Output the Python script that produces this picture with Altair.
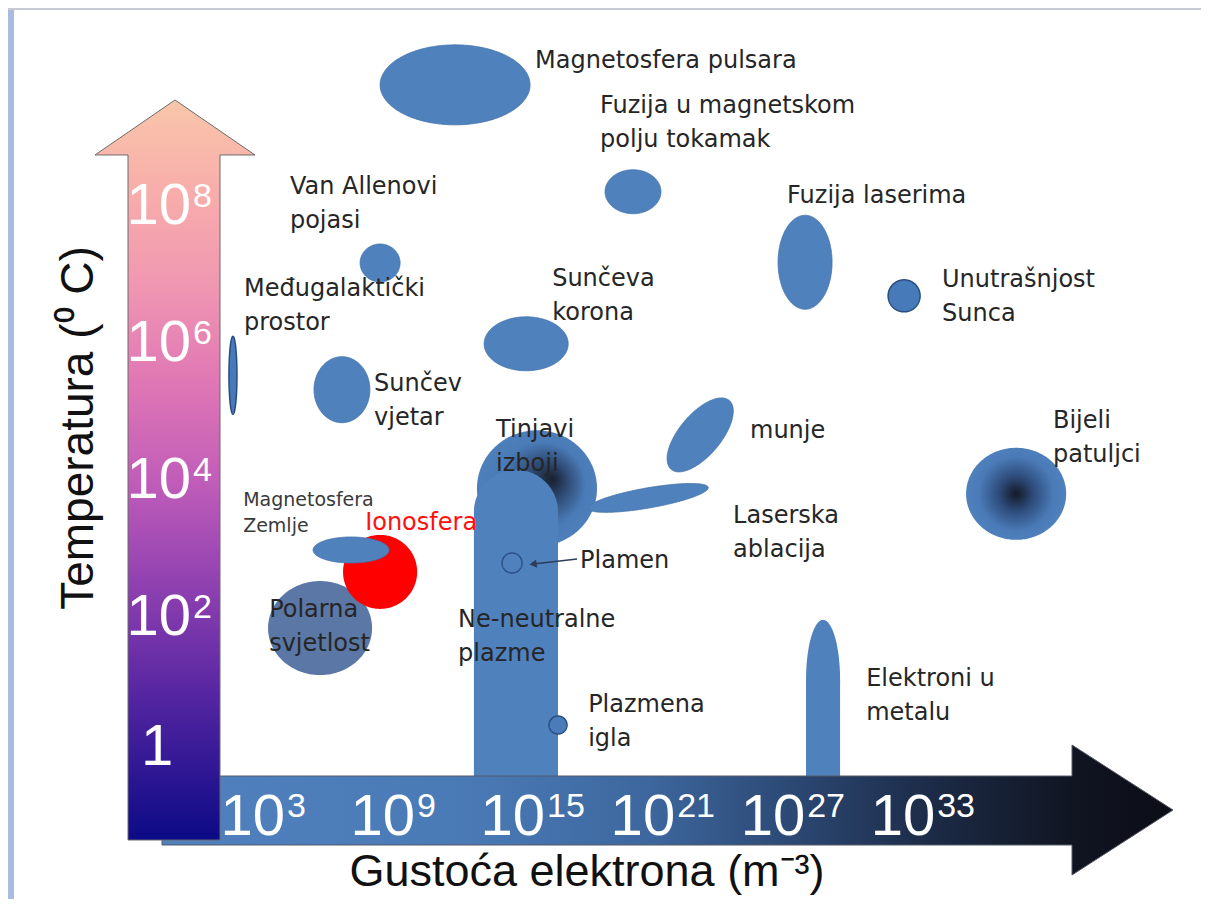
import numpy as np
import pandas as pd
import altair as alt

# ---------------- data (all values in log10 units) ----------------
region_names = [
    "Magnetosfera pulsara", "Fuzija u magnetskom polju tokamak", "Fuzija laserima",
    "Unutrašnjost Sunca", "Van Allenovi pojasi", "Međugalaktički prostor", "Sunčev vjetar",
    "Sunčeva korona", "Tinjavi izboji", "Munje", "Laserska ablacija", "Bijeli patuljci",
    "Magnetosfera Zemlje", "Ionosfera", "Polarna svjetlost", "Plamen", "Plazmena igla",
]
region_log_density = [11.03, 19.24, 27.18, 31.75, 7.57, 0.78, 5.81, 14.31, 14.81, 22.34,
                      19.94, 36.92, 6.23, 7.57, 4.80, 13.66, 15.78]
region_log_temp = [9.78, 8.22, 7.19, 6.70, 7.18, 5.54, 5.33, 6.00, 3.89, 4.67,
                   3.75, 3.81, 2.99, 2.67, 1.85, 2.80, 0.435]
region_density_halfspan = [3.46, 1.29, 1.246, 0.738, 0.923, 0.185, 1.29, 1.94, 2.77, 1.527,
                           2.773, 2.31, 1.754, 1.71, 2.40, 0.46, 0.415]
region_temp_halfspan = [0.584, 0.321, 0.686, 0.234, 0.277, 0.569, 0.482, 0.394, 0.847, 0.540,
                        0.211, 0.672, 0.19, 0.54, 0.686, 0.146, 0.131]
region_tilt_phase = [90, 90, 90, 90, 90, 90, 90, 90, 90, 50, 45, 90, 90, 90, 90, 90, 90]

column_names = ["Ne-neutralne plazme", "Elektroni u metalu"]
column_log_density = [13.84, 28.01]
column_density_halfspan = [1.94, 0.785]
column_log_temp_top = [4.16, 1.97]
column_log_temp_bottom = [-0.45, -0.45]
column_cap = [0.613, 0.876]

x_tick_exponents = [3, 9, 15, 21, 27, 33]
y_tick_exponents = [8, 6, 4, 2]

label_texts = [
    "Magnetosfera pulsara", "Fuzija u magnetskom\npolju tokamak", "Van Allenovi\npojasi",
    "Međugalaktički\nprostor", "Sunčeva\nkorona", "Fuzija laserima", "Unutrašnjost\nSunca",
    "Sunčev\nvjetar", "Tinjavi\nizboji", "munje", "Bijeli\npatuljci", "Laserska\nablacija",
    "Polarna\nsvjetlost", "Plamen", "Ne-neutralne\nplazme", "Plazmena\nigla", "Elektroni u\nmetalu",
]
label_x = [14.72, 17.72, 3.41, 1.29, 15.51, 26.35, 33.50, 7.29, 12.92, 24.64, 38.62, 23.86,
           2.45, 16.80, 11.17, 17.17, 30.00]
label_y = [10.03, 9.37, 8.19, 6.70, 6.84, 8.06, 6.83, 5.31, 4.64, 4.62, 4.77, 3.38,
           2.01, 2.73, 1.87, 0.62, 1.00]

small_label = {"text": "Magnetosfera\nZemlje", "x": 1.25, "y": 3.63}
red_label = {"text": "Ionosfera", "x": 6.88, "y": 3.28}
plamen_pointer = {"x": [16.66], "y": [2.858], "x2": [14.63], "y2": [2.785]}

X_DOMAIN = [-9.6, 45.45]
Y_DOMAIN = [-2.105, 10.902]
W, H = 1193, 891

xs = alt.Scale(domain=X_DOMAIN, nice=False, zero=False)
ys = alt.Scale(domain=Y_DOMAIN, nice=False, zero=False)

BLUE = "#4f81bd"


def ellipse_frame(names):
    frames = []
    for i, nm in enumerate(region_names):
        if nm not in names:
            continue
        t = np.linspace(0, np.pi, 120)
        d = np.radians(region_tilt_phase[i])
        cx, cy = region_log_density[i], region_log_temp[i]
        rx, ry = region_density_halfspan[i], region_temp_halfspan[i]
        frames.append(pd.DataFrame({
            "name": nm,
            "x": cx + rx * np.cos(t),
            "ya": cy + ry * np.cos(t - d),
            "yb": cy + ry * np.cos(t + d),
        }))
    return pd.concat(frames, ignore_index=True)


def area_layer(df, **mark_kw):
    return alt.Chart(df).mark_area(**mark_kw).encode(
        x=alt.X("x:Q", scale=xs, axis=None),
        y=alt.Y("ya:Q", scale=ys, axis=None),
        y2="yb:Q",
        detail="name:N",
    )


one = pd.DataFrame({"a": [0]})

# page frame
border_left = alt.Chart(one).mark_rect(color="#a9bbe3").encode(
    x=alt.value(0), x2=alt.value(6), y=alt.value(0), y2=alt.value(H))
border_top = alt.Chart(one).mark_rect(color="#c5cad6").encode(
    x=alt.value(0), x2=alt.value(W), y=alt.value(0), y2=alt.value(2))

polar = area_layer(ellipse_frame(["Polarna svjetlost"]), color="#5a77a5", opacity=1)
iono = area_layer(ellipse_frame(["Ionosfera"]), color="#ff0000", opacity=1)
blue_a = area_layer(ellipse_frame([
    "Magnetosfera pulsara", "Fuzija u magnetskom polju tokamak", "Fuzija laserima",
    "Van Allenovi pojasi", "Sunčev vjetar", "Sunčeva korona", "Munje", "Magnetosfera Zemlje"]),
    color=BLUE, opacity=1, stroke="#4473ab", strokeWidth=0.8)
blue_outlined = area_layer(ellipse_frame(["Unutrašnjost Sunca", "Međugalaktički prostor"]),
                           color="#467ab8", opacity=1, stroke="#2a4d80", strokeWidth=1.5)

glow = area_layer(ellipse_frame(["Tinjavi izboji"]), opacity=1, fill={
    "gradient": "radial", "x1": 0.63, "y1": 0.42, "r1": 0, "x2": 0.5, "y2": 0.5, "r2": 0.55,
    "stops": [{"offset": 0, "color": "#18202e"}, {"offset": 0.3, "color": "#2f4b75"},
              {"offset": 0.65, "color": "#4a7bb7"}, {"offset": 1, "color": BLUE}]})

col_rows = pd.DataFrame({
    "name": column_names,
    "x1": [c - h for c, h in zip(column_log_density, column_density_halfspan)],
    "x2": [c + h for c, h in zip(column_log_density, column_density_halfspan)],
    "ybot": column_log_temp_bottom,
    "ycap": [t - c for t, c in zip(column_log_temp_top, column_cap)],
})
columns_rect = alt.Chart(col_rows).mark_rect(color=BLUE, opacity=1).encode(
    x=alt.X("x1:Q", scale=xs, axis=None), x2="x2:Q",
    y=alt.Y("ybot:Q", scale=ys, axis=None), y2="ycap:Q")
cap_frames = []
for i, nm in enumerate(column_names):
    t = np.linspace(0, np.pi, 120)
    cy = column_log_temp_top[i] - column_cap[i]
    cap_frames.append(pd.DataFrame({
        "name": nm,
        "x": column_log_density[i] + column_density_halfspan[i] * np.cos(t),
        "ya": cy + column_cap[i] * np.sin(t),
        "yb": cy - column_cap[i] * np.sin(t),
    }))
columns_cap = area_layer(pd.concat(cap_frames, ignore_index=True), color=BLUE, opacity=1)

ablation = area_layer(ellipse_frame(["Laserska ablacija"]), color=BLUE, opacity=1,
                      stroke="#4473ab", strokeWidth=0.8)
needle = area_layer(ellipse_frame(["Plazmena igla"]), color="#4a7cba", opacity=1,
                    stroke="#2a4d80", strokeWidth=1.5)
dwarf = area_layer(ellipse_frame(["Bijeli patuljci"]), opacity=1, fill={
    "gradient": "radial", "x1": 0.5, "y1": 0.5, "r1": 0, "x2": 0.5, "y2": 0.5, "r2": 0.5,
    "stops": [{"offset": 0, "color": "#141926"}, {"offset": 0.35, "color": "#2e4c7b"},
              {"offset": 0.75, "color": "#4a7bb8"}, {"offset": 1, "color": BLUE}]})
flame = area_layer(ellipse_frame(["Plamen"]), fillOpacity=0, stroke="#2d5288", strokeWidth=1.5)

# axis arrows (decorations)
y_arrow_path = ("M 0 -1 L 0.2162 -0.8514 L 0.1216 -0.8514 L 0.1216 1 L -0.127 1 "
                "L -0.127 -0.8514 L -0.2162 -0.8514 Z")
y_arrow = alt.Chart(one).mark_point(
    shape=y_arrow_path, size=740 ** 2, filled=True, opacity=1, stroke="#6a6a6a", strokeWidth=1,
    fill={"gradient": "linear", "x1": 0, "y1": 0, "x2": 0, "y2": 1, "stops": [
        {"offset": 0, "color": "#f9c6aa"}, {"offset": 0.12, "color": "#f8aeaa"},
        {"offset": 0.25, "color": "#f097b2"}, {"offset": 0.38, "color": "#e077b4"},
        {"offset": 0.52, "color": "#bf5cb9"}, {"offset": 0.66, "color": "#8e40b0"},
        {"offset": 0.8, "color": "#5726a2"}, {"offset": 1, "color": "#0c0a86"}]},
).encode(x=alt.value(167), y=alt.value(462))

x_arrow_path = ("M -1 -0.06726 L 0.8002 -0.06726 L 0.8002 -0.1286 L 1 0 L 0.8002 0.1286 "
                "L 0.8002 0.06924 L -1 0.06924 Z")
x_arrow = alt.Chart(one).mark_point(
    shape=x_arrow_path, size=1011 ** 2, filled=True, opacity=1, stroke="#555a66", strokeWidth=1,
    fill={"gradient": "linear", "x1": 0, "y1": 0, "x2": 1, "y2": 0, "stops": [
        {"offset": 0, "color": "#5081be"}, {"offset": 0.3, "color": "#4a7ab6"},
        {"offset": 0.48, "color": "#3d679e"}, {"offset": 0.63, "color": "#2b4772"},
        {"offset": 0.76, "color": "#1c2b47"}, {"offset": 0.9, "color": "#111522"},
        {"offset": 1, "color": "#0b0d16"}]},
).encode(x=alt.value(659.5), y=alt.value(802))

# tick labels inside arrows
xt = pd.DataFrame({"e": x_tick_exponents, "base": ["10"] * len(x_tick_exponents),
                   "sup": [str(v) for v in x_tick_exponents]})
x_base = alt.Chart(xt).mark_text(align="right", baseline="alphabetic", dx=4, font="Liberation Sans",
                                 fontSize=58, color="white").encode(
    x=alt.X("e:Q", scale=xs, axis=None), y=alt.value(827), text="base:N")
x_sup = alt.Chart(xt).mark_text(align="left", baseline="alphabetic", dx=6, font="Liberation Sans",
                                fontSize=34, color="white").encode(
    x=alt.X("e:Q", scale=xs, axis=None), y=alt.value(809), text="sup:N")

yt = pd.DataFrame({"e": y_tick_exponents, "base": ["10"] * len(y_tick_exponents),
                   "sup": [str(v) for v in y_tick_exponents]})
y_base = alt.Chart(yt).mark_text(align="right", baseline="alphabetic", dy=17, font="Liberation Sans",
                                 fontSize=58, color="white").encode(
    x=alt.value(183), y=alt.Y("e:Q", scale=ys, axis=None), text="base:N")
y_sup = alt.Chart(yt).mark_text(align="left", baseline="alphabetic", dy=0, font="Liberation Sans",
                                fontSize=34, color="white").encode(
    x=alt.value(185), y=alt.Y("e:Q", scale=ys, axis=None), text="sup:N")
y_one = alt.Chart(pd.DataFrame({"e": [0], "t": ["1"]})).mark_text(
    align="center", baseline="alphabetic", dy=10, font="Liberation Sans", fontSize=58, color="white"
).encode(x=alt.value(149), y=alt.Y("e:Q", scale=ys, axis=None), text="t:N")

# axis titles
x_title = alt.Chart(pd.DataFrame({"t": ["Gustoća elektrona (m⁻³)"]})).mark_text(
    align="center", baseline="alphabetic", font="Liberation Sans", fontSize=45, color="#111111"
).encode(x=alt.value(579), y=alt.value(878), text="t:N")
y_title = alt.Chart(pd.DataFrame({"t": ["Temperatura (⁰ C)"]})).mark_text(
    align="center", baseline="alphabetic", angle=270, font="Liberation Sans", fontSize=46,
    color="#111111"
).encode(x=alt.value(85), y=alt.value(420), text="t:N")

# region labels
lab = pd.DataFrame({"text": label_texts, "x": label_x, "y": label_y})
labels = alt.Chart(lab).mark_text(align="left", baseline="alphabetic", lineBreak="\n", lineHeight=34,
                                  font="DejaVu Sans", fontSize=24, color="#262626").encode(
    x=alt.X("x:Q", scale=xs, axis=None), y=alt.Y("y:Q", scale=ys, axis=None), text="text:N")
small = alt.Chart(pd.DataFrame([small_label])).mark_text(
    align="left", baseline="alphabetic", lineBreak="\n", lineHeight=26, font="DejaVu Sans",
    fontSize=19, color="#3a3a3a").encode(
    x=alt.X("x:Q", scale=xs, axis=None), y=alt.Y("y:Q", scale=ys, axis=None), text="text:N")
red = alt.Chart(pd.DataFrame([red_label])).mark_text(
    align="left", baseline="alphabetic", font="DejaVu Sans", fontSize=24, color="#ff1010").encode(
    x=alt.X("x:Q", scale=xs, axis=None), y=alt.Y("y:Q", scale=ys, axis=None), text="text:N")

ptr = pd.DataFrame(plamen_pointer)
pointer_line = alt.Chart(ptr).mark_rule(color="#2c3e5a", strokeWidth=1.5).encode(
    x=alt.X("x:Q", scale=xs, axis=None), y=alt.Y("y:Q", scale=ys, axis=None), x2="x2:Q", y2="y2:Q")
pointer_head = alt.Chart(ptr).mark_point(shape="triangle-left", size=70, filled=True, opacity=1,
                                         color="#2c3e5a", angle=352).encode(
    x=alt.X("x2:Q", scale=xs, axis=None), y=alt.Y("y2:Q", scale=ys, axis=None))

chart = alt.layer(
    border_left, border_top,
    polar, iono, blue_a, blue_outlined, glow, columns_rect, columns_cap, ablation, needle, dwarf, flame,
    x_arrow, y_arrow,
    x_base, x_sup, y_base, y_sup, y_one,
    x_title, y_title, labels, small, red, pointer_line, pointer_head,
).properties(
    width=W, height=H, autosize=alt.AutoSizeParams(type="none"), padding=0, background="white"
).configure_view(strokeWidth=0)

chart.save("out.html", embed_options={"renderer": "svg", "actions": False})
